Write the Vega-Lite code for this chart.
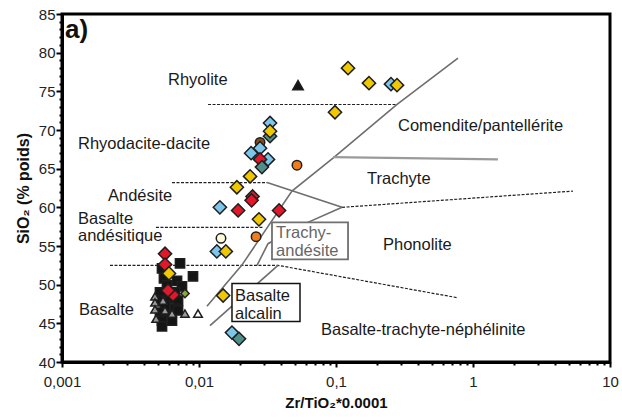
{
  "$schema": "https://vega.github.io/schema/vega-lite/v6.json",
  "width": 548,
  "height": 348,
  "autosize": {"type": "none"},
  "padding": {"left": 62, "top": 14, "right": 12, "bottom": 57},
  "background": "white",
  "config": {
    "view": {"stroke": "black", "strokeWidth": 3},
    "font": "Liberation Sans",
    "axis": {
      "grid": false,
      "domainColor": "black",
      "domainWidth": 3,
      "tickColor": "black",
      "tickWidth": 2,
      "labelColor": "#222",
      "labelFont": "Liberation Sans",
      "labelFontSize": 15,
      "titleFont": "Liberation Sans",
      "titleFontWeight": "bold",
      "titleColor": "#111",
      "labelOverlap": false,
      "labelBound": false,
      "labelFlush": false
    }
  },
  "datasets": {
    "points": [
      {"x": 0.00727, "y": 52.75, "type": "sq"},
      {"x": 0.00904, "y": 51.06, "type": "sq"},
      {"x": 0.00537, "y": 52.1, "type": "sq"},
      {"x": 0.00555, "y": 50.8, "type": "sq"},
      {"x": 0.00691, "y": 50.5, "type": "sq"},
      {"x": 0.00751, "y": 49.77, "type": "sq"},
      {"x": 0.00584, "y": 49.9, "type": "sq"},
      {"x": 0.00519, "y": 49.0, "type": "sq"},
      {"x": 0.00668, "y": 49.0, "type": "sq"},
      {"x": 0.00614, "y": 48.21, "type": "sq"},
      {"x": 0.00519, "y": 47.95, "type": "sq"},
      {"x": 0.00703, "y": 47.95, "type": "sq"},
      {"x": 0.00565, "y": 47.3, "type": "sq"},
      {"x": 0.00668, "y": 46.92, "type": "sq"},
      {"x": 0.00519, "y": 46.4, "type": "sq"},
      {"x": 0.00594, "y": 46.0, "type": "sq"},
      {"x": 0.00537, "y": 45.36, "type": "sq"},
      {"x": 0.00635, "y": 45.36, "type": "sq"},
      {"x": 0.00537, "y": 44.6, "type": "sq"},
      {"x": 0.00703, "y": 46.66, "type": "sq"},
      {"x": 0.00635, "y": 46.27, "type": "trg"},
      {"x": 0.0079, "y": 46.27, "type": "trg"},
      {"x": 0.00477, "y": 48.47, "type": "trg"},
      {"x": 0.00477, "y": 47.7, "type": "trg"},
      {"x": 0.00477, "y": 46.79, "type": "trg"},
      {"x": 0.00486, "y": 45.6, "type": "trg"},
      {"x": 0.00546, "y": 47.95, "type": "trg"},
      {"x": 0.00565, "y": 46.66, "type": "trg"},
      {"x": 0.00983, "y": 46.27, "type": "trw"},
      {"x": 0.0528, "y": 75.8, "type": "trb"},
      {"x": 0.0279, "y": 68.4, "type": "cbr"},
      {"x": 0.252, "y": 75.93, "type": "db"},
      {"x": 0.033, "y": 70.9, "type": "db"},
      {"x": 0.0279, "y": 67.65, "type": "db"},
      {"x": 0.024, "y": 67.0, "type": "db"},
      {"x": 0.0319, "y": 66.2, "type": "db"},
      {"x": 0.0142, "y": 60.0, "type": "db"},
      {"x": 0.0135, "y": 54.3, "type": "db"},
      {"x": 0.0174, "y": 43.8, "type": "db"},
      {"x": 0.0279, "y": 66.2, "type": "dr"},
      {"x": 0.0246, "y": 61.4, "type": "dr"},
      {"x": 0.0242, "y": 60.9, "type": "dr"},
      {"x": 0.0193, "y": 59.6, "type": "dr"},
      {"x": 0.0384, "y": 59.6, "type": "dr"},
      {"x": 0.00565, "y": 54.0, "type": "dr"},
      {"x": 0.00565, "y": 52.6, "type": "dr"},
      {"x": 0.00646, "y": 48.7, "type": "dr"},
      {"x": 0.00594, "y": 49.25, "type": "dr"},
      {"x": 0.033, "y": 69.2, "type": "dt"},
      {"x": 0.0288, "y": 65.2, "type": "dt"},
      {"x": 0.0196, "y": 43.0, "type": "dt"},
      {"x": 0.1224, "y": 78.0, "type": "dy"},
      {"x": 0.1741, "y": 76.06, "type": "dy"},
      {"x": 0.2789, "y": 75.8, "type": "dy"},
      {"x": 0.0983, "y": 72.3, "type": "dy"},
      {"x": 0.033, "y": 69.85, "type": "dy"},
      {"x": 0.0236, "y": 64.0, "type": "dy"},
      {"x": 0.0189, "y": 62.6, "type": "dy"},
      {"x": 0.0274, "y": 58.45, "type": "dy"},
      {"x": 0.0157, "y": 54.3, "type": "dy"},
      {"x": 0.015, "y": 48.6, "type": "dy"},
      {"x": 0.00604, "y": 51.45, "type": "dy"},
      {"x": 0.0079, "y": 48.86, "type": "dg"},
      {"x": 0.0519, "y": 65.45, "type": "cor"},
      {"x": 0.0261, "y": 56.2, "type": "cor"},
      {"x": 0.01447, "y": 56.0, "type": "cpa"}
    ],
    "dashed": [
      {"g": 1, "o": 1, "x": 0.01164, "y": 73.3},
      {"g": 1, "o": 2, "x": 0.279, "y": 73.3},
      {"g": 2, "o": 1, "x": 0.00635, "y": 63.2},
      {"g": 2, "o": 2, "x": 0.0314, "y": 63.2},
      {"g": 3, "o": 1, "x": 0.00485, "y": 57.4},
      {"g": 3, "o": 2, "x": 0.0295, "y": 57.4},
      {"g": 4, "o": 1, "x": 0.00224, "y": 52.5},
      {"g": 4, "o": 2, "x": 0.0377, "y": 52.5},
      {"g": 4, "o": 3, "x": 0.777, "y": 48.3},
      {"g": 5, "o": 1, "x": 0.1107, "y": 60.0},
      {"g": 5, "o": 2, "x": 5.37, "y": 62.1}
    ],
    "solid": [
      {"g": 6, "o": 1, "x": 0.777, "y": 79.3},
      {"g": 6, "o": 2, "x": 0.279, "y": 73.3},
      {"g": 6, "o": 3, "x": 0.0951, "y": 66.35},
      {"g": 6, "o": 4, "x": 0.0477, "y": 62.1},
      {"g": 6, "o": 5, "x": 0.0205, "y": 52.5},
      {"g": 6, "o": 6, "x": 0.01143, "y": 47.2},
      {"g": 7, "o": 1, "x": 0.0377, "y": 52.5},
      {"g": 7, "o": 2, "x": 0.01203, "y": 44.7},
      {"g": 8, "o": 1, "x": 0.1107, "y": 60.0},
      {"g": 8, "o": 2, "x": 0.0546, "y": 57.6},
      {"g": 8, "o": 3, "x": 0.0319, "y": 55.3},
      {"g": 8, "o": 4, "x": 0.0265, "y": 52.5},
      {"g": 9, "o": 1, "x": 0.0314, "y": 63.2},
      {"g": 9, "o": 2, "x": 0.1107, "y": 60.0}
    ],
    "trachyteLine": [
      {"g": 10, "o": 1, "x": 0.0951, "y": 66.5},
      {"g": 10, "o": 2, "x": 1.52, "y": 66.2}
    ],
    "boxGray": [{"x": 0.0341, "x2": 0.1224, "y": 58.06, "y2": 53.26}],
    "boxBlack": [{"x": 0.01741, "x2": 0.0546, "y": 50.15, "y2": 45.23}],
    "labels": [
      {"x": 0.00594, "y": 75.8, "t": "Rhyolite"},
      {"x": 0.001309, "y": 67.6, "t": "Rhyodacite-dacite"},
      {"x": 0.002167, "y": 60.8, "t": "Andésite"},
      {"x": 0.001309, "y": 57.85, "t": "Basalte"},
      {"x": 0.001309, "y": 55.6, "t": "andésitique"},
      {"x": 0.001331, "y": 46.1, "t": "Basalte"},
      {"x": 0.2836, "y": 69.9, "t": "Comendite/pantellérite"},
      {"x": 0.1684, "y": 63.0, "t": "Trachyte"},
      {"x": 0.2203, "y": 54.5, "t": "Phonolite"},
      {"x": 0.07772, "y": 43.55, "t": "Basalte-trachyte-néphélinite"},
      {"x": 0.01831, "y": 47.95, "t": "Basalte"},
      {"x": 0.01831, "y": 45.58, "t": "alcalin"}
    ],
    "labelsGray": [
      {"x": 0.0365, "y": 56.07, "t": "Trachy-"},
      {"x": 0.0365, "y": 53.65, "t": "andésite"}
    ],
    "panel": [{"x": 0.001052, "y": 81.85, "t": "a)"}]
  },
  "encoding": {
    "x": {
      "field": "x",
      "type": "quantitative",
      "scale": {"type": "log", "domain": [0.001, 10], "nice": false},
      "axis": {
        "values": [0.001, 0.002, 0.003, 0.004, 0.005, 0.006, 0.007, 0.008, 0.009, 0.01, 0.02, 0.03, 0.04, 0.05, 0.06, 0.07, 0.08, 0.09, 0.1, 0.2, 0.3, 0.4, 0.5, 0.6, 0.7, 0.8, 0.9, 1, 2, 3, 4, 5, 6, 7, 8, 9, 10],
        "labelExpr": "datum.value == 0.001 ? '0,001' : datum.value == 0.01 ? '0,01' : datum.value == 0.1 ? '0,1' : datum.value == 1 ? '1' : datum.value == 10 ? '10' : ''",
        "tickSize": {"condition": {"test": "indexof([0.001, 0.01, 0.1, 1, 10], datum.value) >= 0", "value": 5}, "value": 3},
        "labelPadding": 7,
        "title": "Zr/TiO₂*0.0001",
        "titleFontSize": 15,
        "titlePadding": 6
      }
    },
    "y": {
      "field": "y",
      "type": "quantitative",
      "scale": {"domain": [40, 85], "nice": false, "zero": false},
      "axis": {
        "values": [40, 41, 42, 43, 44, 45, 46, 47, 48, 49, 50, 51, 52, 53, 54, 55, 56, 57, 58, 59, 60, 61, 62, 63, 64, 65, 66, 67, 68, 69, 70, 71, 72, 73, 74, 75, 76, 77, 78, 79, 80, 81, 82, 83, 84, 85],
        "labelExpr": "datum.value % 5 === 0 ? datum.label : ''",
        "tickSize": {"condition": {"test": "datum.value % 5 === 0", "value": 6}, "value": 3},
        "labelPadding": 1,
        "title": "SiO₂ (% poids)",
        "titleFontSize": 16,
        "titlePadding": 7
      }
    }
  },
  "layer": [
    {
      "data": {"name": "dashed"},
      "mark": {"type": "line", "color": "#222", "strokeWidth": 1.2, "strokeDash": [3, 1.5]},
      "encoding": {"detail": {"field": "g", "type": "nominal"}, "order": {"field": "o", "type": "quantitative"}}
    },
    {
      "data": {"name": "solid"},
      "mark": {"type": "line", "color": "#6e6e6e", "strokeWidth": 1.6},
      "encoding": {"detail": {"field": "g", "type": "nominal"}, "order": {"field": "o", "type": "quantitative"}}
    },
    {
      "data": {"name": "trachyteLine"},
      "mark": {"type": "line", "color": "#9a9a9a", "strokeWidth": 2.2},
      "encoding": {"detail": {"field": "g", "type": "nominal"}, "order": {"field": "o", "type": "quantitative"}}
    },
    {
      "data": {"name": "boxGray"},
      "mark": {"type": "rect", "fill": "white", "stroke": "#707070", "strokeWidth": 1.8},
      "encoding": {"x2": {"field": "x2"}, "y2": {"field": "y2"}}
    },
    {
      "data": {"name": "boxBlack"},
      "mark": {"type": "rect", "fill": "white", "stroke": "#111", "strokeWidth": 1.5},
      "encoding": {"x2": {"field": "x2"}, "y2": {"field": "y2"}}
    },
    {
      "data": {"name": "points"},
      "mark": {"type": "point", "filled": true, "stroke": "#1e1e1e", "strokeWidth": 1.5, "opacity": 1},
      "encoding": {
        "shape": {"field": "type", "type": "nominal", "legend": null,
          "scale": {"domain": ["sq", "trg", "trw", "trb", "cbr", "dr", "db", "dt", "dy", "dg", "cor", "cpa"],
                    "range": ["square", "triangle-up", "triangle-up", "triangle-up", "circle", "diamond", "diamond", "diamond", "diamond", "diamond", "circle", "circle"]}},
        "fill": {"field": "type", "type": "nominal", "legend": null,
          "scale": {"domain": ["sq", "trg", "trw", "trb", "cbr", "dr", "db", "dt", "dy", "dg", "cor", "cpa"],
                    "range": ["#151515", "#9a9a9a", "#ffffff", "#151515", "#8b4a1a", "#e0182a", "#7cc6ec", "#4f8f8a", "#f0c800", "#8aa83a", "#f07d1a", "#fffbd8"]}},
        "size": {"field": "type", "type": "nominal", "legend": null,
          "scale": {"type": "ordinal", "domain": ["sq", "trg", "trw", "trb", "cbr", "dr", "db", "dt", "dy", "dg", "cor", "cpa"],
                    "range": [85, 70, 75, 110, 90, 175, 175, 175, 175, 70, 90, 90]}}
      }
    },
    {
      "data": {"name": "labels"},
      "mark": {"type": "text", "align": "left", "baseline": "alphabetic", "fontSize": 16.5, "color": "#1a1a1a", "font": "Liberation Sans"},
      "encoding": {"text": {"field": "t"}}
    },
    {
      "data": {"name": "labelsGray"},
      "mark": {"type": "text", "align": "left", "baseline": "alphabetic", "fontSize": 16.5, "color": "#666", "font": "Liberation Sans"},
      "encoding": {"text": {"field": "t"}}
    },
    {
      "data": {"name": "panel"},
      "mark": {"type": "text", "align": "left", "baseline": "alphabetic", "fontSize": 26, "fontWeight": "bold", "color": "#111", "font": "Liberation Sans"},
      "encoding": {"text": {"field": "t"}}
    }
  ]
}
